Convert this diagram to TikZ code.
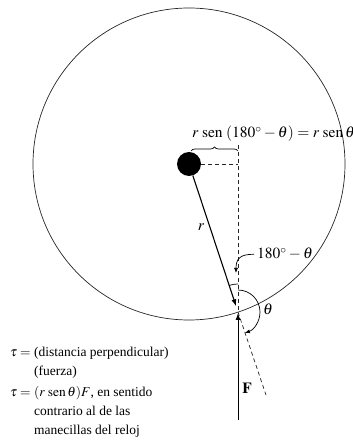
\documentclass[tikz,border=0pt]{standalone}
\usepackage{mathptmx}
\usepackage{fontspec}
\setmainfont{Liberation Serif}
\usepackage{tikz}
\usetikzlibrary{arrows.meta,positioning,calc,decorations.pathreplacing}
\tikzset{
  mass/.style={circle,fill=black,inner sep=0pt,minimum size=24pt},
  orbit/.style={draw=black!85,line width=0.7pt},
  rodarrow/.style={-{Latex[length=7pt,width=5pt]},line width=1.1pt,shorten >=6pt},
  forcearrow/.style={-{Latex[length=7pt,width=5pt]},line width=0.9pt,shorten >=1pt},
  guideline/.style={dashed,dash pattern=on 4pt off 3pt,line width=0.7pt,draw=black!85},
  anglemark/.style={line width=0.7pt},
  labeltext/.style={font=\fontsize{15.5}{18}\selectfont,inner sep=0pt},
  notetext/.style={font=\fontsize{13.5}{19}\selectfont,inner sep=0pt,align=left}
}
\begin{document}
\begin{tikzpicture}[x=1pt,y=1pt]
  \useasboundingbox (0,0) rectangle (353,444);
  \node[mass] (ball) at (189,280) {};
  \coordinate (pivot) at (238,132);
  \coordinate (corner) at (238,280);
  \coordinate (top) at (238,299);
  \coordinate (fbase) at (238,24);
  \coordinate (ext) at (266,49);
  \coordinate (tipa) at (236,171);

  \draw[orbit] (ball.center) circle (156pt);

  \draw[guideline] (top) -- (pivot);
  \draw[guideline] (ball.east) -- (corner);
  \draw[guideline] (pivot) -- (ext);
  \draw[line width=0.7pt,decorate,decoration={brace,amplitude=4pt}] (191,293) -- (238,293);
  \node[labeltext,anchor=base west] (arm) at (192,306) {$r\;\mathrm{sen}\;(180^\circ-\theta)=r\;\mathrm{sen}\,\theta$};

  \draw[rodarrow] (ball) -- (pivot);
  \node[labeltext] (rlab) at (201,217) {$r$};
  \draw[forcearrow] (fbase) -- (pivot);
  \node[labeltext] (flab) at (247,56) {$\mathbf{F}$};

  \draw[anglemark] (pivot) ++(90:28pt) arc[start angle=90,end angle=108.3,radius=28pt];
  \draw[anglemark,-{Latex[length=5pt,width=4pt]}] (pivot) ++(90:22pt) arc[start angle=90,end angle=-71.7,radius=22pt];
  \node[labeltext] (thlab) at (268,135) {$\theta$};

  \node[labeltext,anchor=base west] (suple) at (257,185) {$180^\circ-\theta$};
  \draw[anglemark,-{Latex[length=5pt,width=4pt]}] ($(suple.west)+(-3,0)$) .. controls (240,190) and (236,185) .. (tipa);

  \node[notetext,anchor=north west] (note) at (10,101) {%
    \begin{tabular}{@{}l@{\ }l@{}}
      $\tau =$ & (distancia perpendicular)\\
               & (fuerza)\\[2pt]
      $\tau =$ & $(r\;\mathrm{sen}\,\theta)F$, en sentido\\
               & contrario al de las\\
               & manecillas del reloj
    \end{tabular}};
\end{tikzpicture}
\end{document}
